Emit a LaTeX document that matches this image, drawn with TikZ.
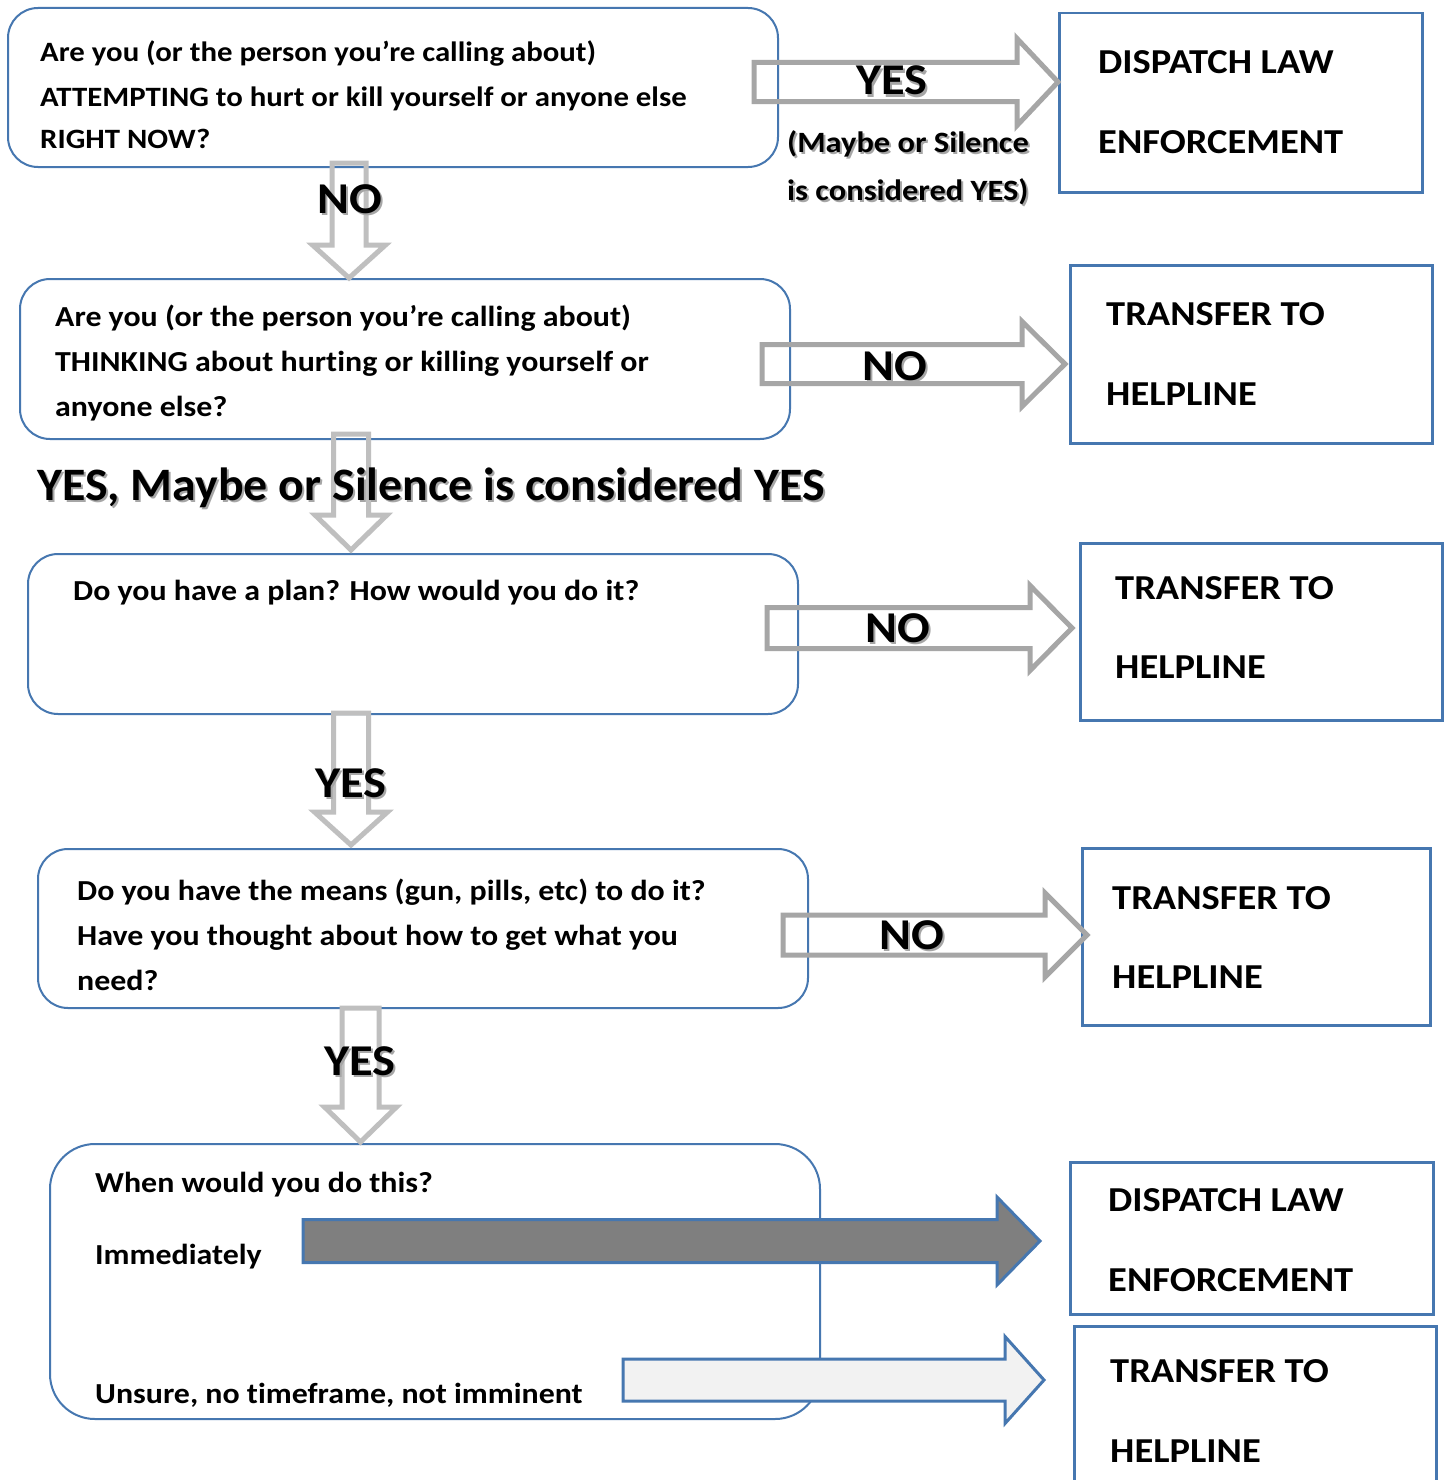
\documentclass[tikz,border=0pt]{standalone}
\usepackage{fontspec}
\setmainfont{Carlito}[FakeStretch=1.1, Ligatures=NoCommon]
\newfontfamily\bigfont{Carlito}[FakeStretch=1.03, Ligatures=NoCommon]
\usetikzlibrary{calc}
\definecolor{boxblue}{HTML}{4677B0}
\definecolor{lgray}{HTML}{BFBFBF}
\definecolor{mgray}{HTML}{A6A6A6}
\definecolor{dgray}{HTML}{7F7F7F}
\definecolor{pale}{HTML}{F2F2F2}
% horizontal block arrow: style, start, tip, half shaft, half head, head length
\newcommand\harrow[6]{\draw[#1] let \p1=(#2), \p2=(#3) in
  (\x1,\y2+#4) -- (\x2-#6,\y2+#4) -- (\x2-#6,\y2+#5) -- (\x2,\y2) --
  (\x2-#6,\y2-#5) -- (\x2-#6,\y2-#4) -- (\x1,\y2-#4) -- cycle;}
% vertical (downward) block arrow
\newcommand\varrow[6]{\draw[#1] let \p1=(#2), \p2=(#3) in
  (\x2-#4,\y1) -- (\x2-#4,\y2+#6) -- (\x2-#5,\y2+#6) -- (\x2,\y2) --
  (\x2+#5,\y2+#6) -- (\x2+#4,\y2+#6) -- (\x2+#4,\y1) -- cycle;}
% label with soft shadow: name, position, extra options, text
\newcommand\slabel[4]{%
  \node[#3, text=black!35] (#1s) at ($(#2)+(2,2)$) {#4};
  \node[#3] (#1) at (#2) {#4};}
\begin{document}
\begin{tikzpicture}[x=1pt,y=-1pt,
  qbox/.style={draw=boxblue, line width=2pt, rounded corners=30pt, anchor=north west, inner sep=0pt},
  rbox/.style={draw=boxblue, line width=2.5pt, anchor=north west, inner sep=0pt},
  qtext/.style={anchor=base west, inner sep=0pt, font=\fontsize{29}{34}\selectfont\bfseries},
  qtextA/.style={anchor=base west, inner sep=0pt, font=\fontsize{28}{34}\selectfont\bfseries},
  rtext/.style={anchor=base west, inner sep=0pt, font=\fontsize{35}{42}\selectfont\bfseries},
  lbl/.style={anchor=base, inner sep=0pt, font=\fontsize{44}{50}\selectfont\bfseries},
  biglbl/.style={anchor=base west, inner sep=0pt, font=\bigfont\fontsize{46.5}{52}\selectfont\bfseries},
  notelbl/.style={anchor=base west, inner sep=0pt, font=\fontsize{29.5}{36}\selectfont\bfseries},
  garrow/.style={draw=lgray, line width=5pt, line join=miter},
  harrowst/.style={draw=mgray, line width=5pt, line join=miter},
  darkarrow/.style={draw=boxblue, fill=dgray, line width=3pt, line join=miter},
  palearrow/.style={draw=boxblue, fill=pale, line width=3pt, line join=miter}]
\clip (0,0) rectangle (1445,1480);
\fill[white] (0,0) rectangle (1445,1480);

% ---------- question boxes ----------
\node[qbox, minimum width=770, minimum height=159] (b1) at (7,7) {};
\node[qbox, minimum width=770, minimum height=160] (b2) at (19,278) {};
\node[qbox, minimum width=770, minimum height=160] (b3) at (27,553) {};
\node[qbox, minimum width=770, minimum height=159] (b4) at (37,848) {};
\node[qbox, rounded corners=45pt, minimum width=770, minimum height=275] (b5) at (49,1143) {};

\node[qtextA] (q1a) at (40,62) {Are you (or the person you’re calling about)};
\node[qtextA] (q1b) at (40,106) {ATTEMPTING to hurt or kill yourself or anyone else};
\node[qtextA] (q1c) at (40,148) {RIGHT NOW?};

\node[qtext] (q2a) at (55,326) {Are you (or the person you’re calling about)};
\node[qtext] (q2b) at (55,371) {THINKING about hurting or killing yourself or};
\node[qtext] (q2c) at (55,416) {anyone else?};

\node[qtext] (q3a) at (73,600) {Do you have a plan? How would you do it?};

\node[qtext] (q4a) at (77,900) {Do you have the means (gun, pills, etc) to do it?};
\node[qtext] (q4b) at (77,945) {Have you thought about how to get what you};
\node[qtext] (q4c) at (77,990) {need?};

\node[qtext] (q5a) at (95,1192) {When would you do this?};
\node[qtext] (q5b) at (95,1264) {Immediately};
\node[qtext] (q5c) at (95,1403) {Unsure, no timeframe, not imminent};

% ---------- outcome boxes ----------
\node[rbox, minimum width=363, minimum height=179] (r1) at (1058,12) {};
\node[rbox, minimum width=362, minimum height=178] (r2) at (1069,264) {};
\node[rbox, minimum width=362, minimum height=177] (r3) at (1079,542) {};
\node[rbox, minimum width=348, minimum height=177] (r4) at (1081,847) {};
\node[rbox, minimum width=363, minimum height=152] (r5) at (1069,1161) {};
\node[rbox, minimum width=362, minimum height=200] (r6) at (1073,1325) {};

\node[rtext] (o1a) at (1098,74) {DISPATCH LAW};
\node[rtext] (o1b) at (1098,153) {ENFORCEMENT};
\node[rtext] (o2a) at (1106,325) {TRANSFER TO};
\node[rtext] (o2b) at (1106,405) {HELPLINE};
\node[rtext] (o3a) at (1115,599) {TRANSFER TO};
\node[rtext] (o3b) at (1115,678) {HELPLINE};
\node[rtext] (o4a) at (1112,909) {TRANSFER TO};
\node[rtext] (o4b) at (1112,988) {HELPLINE};
\node[rtext] (o5a) at (1108,1211) {DISPATCH LAW};
\node[rtext] (o5b) at (1108,1291) {ENFORCEMENT};
\node[rtext] (o6a) at (1110,1382) {TRANSFER TO};
\node[rtext] (o6b) at (1110,1462) {HELPLINE};

% ---------- connector end points ----------
\coordinate (a1s) at (754,82);
\coordinate (a1t) at (r1.west |- a1s);
\coordinate (a2s) at (762,364);
\coordinate (a2t) at ($(r2.west |- a2s)+(-4,0)$);
\coordinate (a3s) at (767,628);
\coordinate (a3t) at ($(r3.west |- a3s)+(-7,0)$);
\coordinate (a4s) at (783,935);
\coordinate (a4t) at ($(r4.west |- a4s)+(6,0)$);
\coordinate (a5s) at (303,1241);
\coordinate (a5t) at ($(r5.west |- a5s)+(-29,0)$);
\coordinate (a6s) at (623,1380);
\coordinate (a6t) at ($(r6.west |- a6s)+(-29,0)$);

\coordinate (d1s) at (349,163);
\coordinate (d1t) at (d1s |- b2.north);
\coordinate (d2s) at (351,434);
\coordinate (d2t) at ($(d2s |- b3.north)+(0,-3)$);
\coordinate (d3s) at (351,713);
\coordinate (d3t) at ($(d3s |- b4.north)+(0,-3)$);
\coordinate (d4s) at (360.5,1008);
\coordinate (d4t) at ($(d4s |- b5.north)+(0,-1)$);

% ---------- connectors ----------
\harrow{harrowst}{a1s}{a1t}{19.5}{43.5}{41}
\harrow{harrowst}{a2s}{a2t}{19.5}{42.5}{43}
\harrow{harrowst}{a3s}{a3t}{20.5}{42.5}{42}
\harrow{harrowst}{a4s}{a4t}{20}{42}{42}
\harrow{darkarrow}{a5s}{a5t}{21.5}{44}{43}
\harrow{palearrow}{a6s}{a6t}{21}{43.5}{39}

\varrow{garrow}{d1s}{d1t}{17}{36.5}{33}
\varrow{garrow}{d2s}{d2t}{17.5}{36}{35}
\varrow{garrow}{d3s}{d3t}{17.5}{36.5}{33}
\varrow{garrow}{d4s}{d4t}{18.5}{36}{35}

% ---------- labels ----------
\slabel{l1}{892,95}{lbl}{YES}
\slabel{l1n}{787,152}{notelbl}{(Maybe or Silence}
\slabel{l1m}{787,200}{notelbl}{is considered YES)}
\slabel{l2}{350,213}{lbl}{NO}
\slabel{l3}{895,380}{lbl}{NO}
\slabel{l4}{37,500}{biglbl}{YES, Maybe or Silence is considered YES}
\slabel{l5}{898,642}{lbl}{NO}
\slabel{l6}{351,797}{lbl}{YES}
\slabel{l7}{912,949}{lbl}{NO}
\slabel{l8}{360,1075}{lbl}{YES}
\end{tikzpicture}
\end{document}
